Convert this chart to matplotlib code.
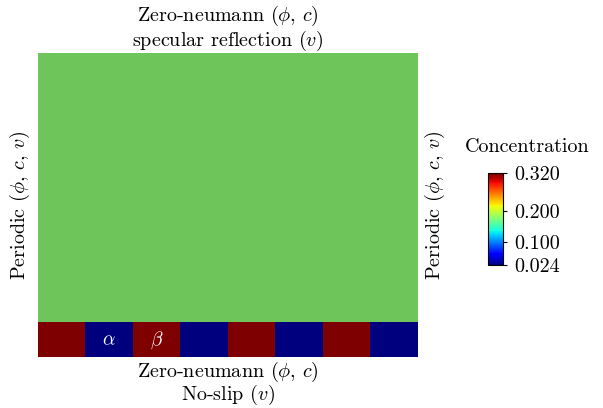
import numpy as np
import matplotlib.pyplot as plt
import matplotlib as mpl

plt.rcParams['font.family'] = 'serif'
plt.rcParams['font.serif'] = ['cmr10']
plt.rcParams['mathtext.fontset'] = 'cm'
plt.rcParams['axes.formatter.use_mathtext'] = True

# block values along the bottom wall (concentration)
block_vals = [0.32, 0.024, 0.32, 0.024, 0.32, 0.024, 0.32, 0.024]
block_labels = ['', r'$\alpha$', r'$\beta$', '', '', '', '', '']
cmin, cmax = 0.024, 0.32
cticks = [0.024, 0.100, 0.200, 0.320]
bulk_color = '#6ec55a'

nblk = len(block_vals)
H = 6.4       # domain height in block widths
hs = 0.72     # strip height

fig = plt.figure(figsize=(6.03, 4.08), dpi=100)
ax = fig.add_axes([0.063, 0.125, 0.630, 0.745])
ax.set_facecolor(bulk_color)
ax.imshow(np.array([block_vals]), cmap='jet', vmin=cmin, vmax=cmax,
          extent=[0, nblk, 0, hs], aspect='auto', interpolation='nearest')
for i, lab in enumerate(block_labels):
    if lab:
        ax.text(i + 0.5, hs/2, lab, color='white', ha='center', va='center', fontsize=14)
ax.set_xlim(0, nblk)
ax.set_ylim(0, H)
ax.set_xticks([])
ax.set_yticks([])
for s in ax.spines.values():
    s.set_visible(False)

fs = 14.5
ax.set_title('Zero-neumann ($\\phi$, $c$)\nspecular reflection ($v$)', fontsize=fs, pad=4, linespacing=1.05)
ax.set_xlabel('Zero-neumann ($\\phi$, $c$)\nNo-slip ($v$)', fontsize=fs, labelpad=2, linespacing=0.95)
ax.set_ylabel('Periodic ($\\phi$, $c$, $v$)', fontsize=fs, labelpad=4)
ax.text(1.045, 0.5, 'Periodic ($\\phi$, $c$, $v$)', transform=ax.transAxes, rotation=90,
        ha='center', va='center', fontsize=fs)

cax = fig.add_axes([0.809, 0.350, 0.025, 0.225])
sm = mpl.cm.ScalarMappable(norm=mpl.colors.Normalize(cmin, cmax), cmap='jet')
cb = fig.colorbar(sm, cax=cax, ticks=cticks, format='%.3f')
cb.ax.tick_params(labelsize=fs, length=3, width=0.8, pad=5)
cb.outline.set_linewidth(0.8)
fig.text(527/603, 1 - 147/408, 'Concentration', ha='center', va='center', fontsize=fs)

plt.savefig('out.png', dpi=100)
